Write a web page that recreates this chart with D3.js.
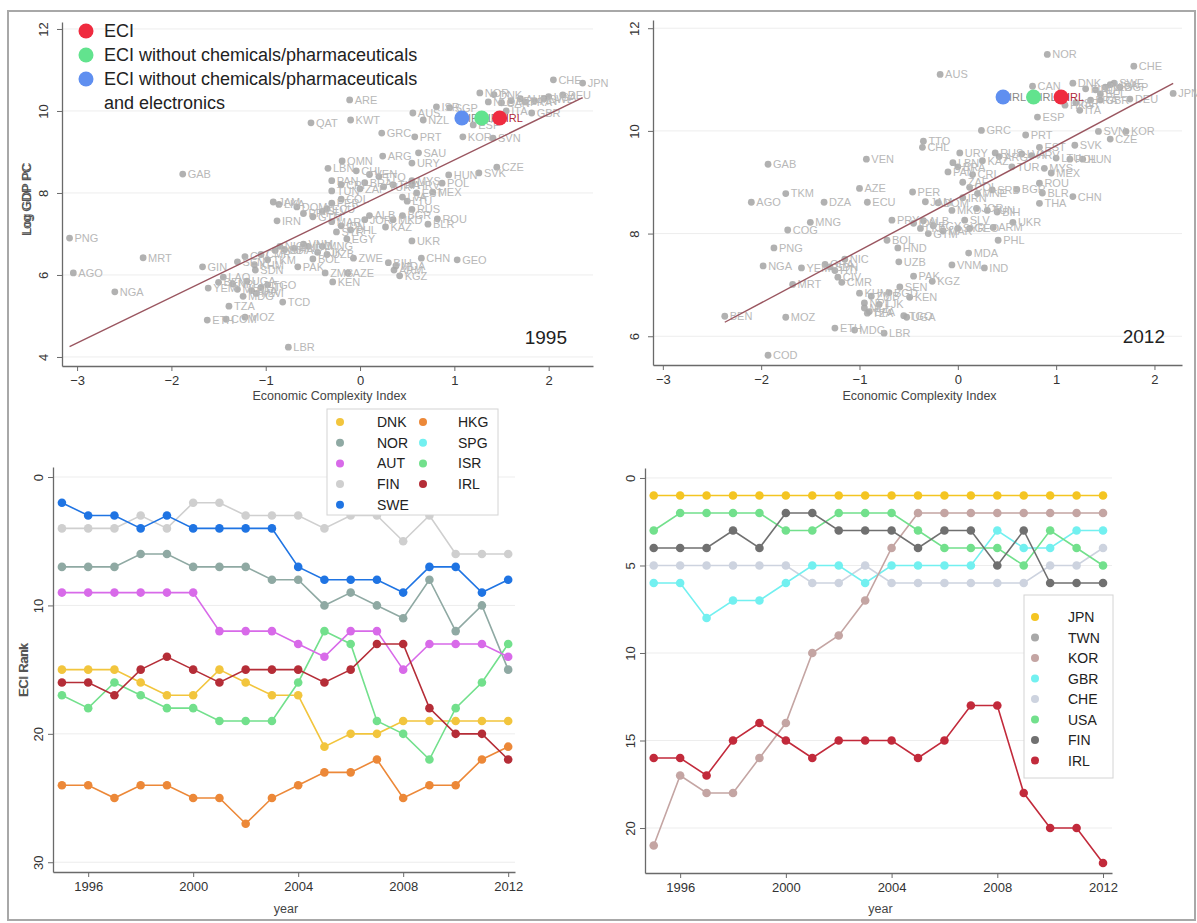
<!DOCTYPE html>
<html>
<head>
<meta charset="utf-8">
<script src="https://cdn.jsdelivr.net/npm/d3@7"></script>
<style>
  body { margin: 0; background: #fff; }
  svg { display: block; font-family: Arial, "Liberation Sans", sans-serif; }
</style>
</head>
<body>
<svg id="chart" width="1197" height="923"></svg>
<script>
// ---- scatter data: [country, ECI, log GDP per capita]
const points1995 = [
  ["PNG",-3.08,6.90],["AGO",-3.04,6.05],["NGA",-2.60,5.59],["MRT",-2.30,6.42],["GAB",-1.88,8.46],
  ["GIN",-1.67,6.20],["YEM",-1.61,5.68],["ETH",-1.62,4.90],["COM",-1.42,4.92],["MOZ",-1.22,4.97],
  ["TZA",-1.39,5.24],["MDG",-1.24,5.48],["LAO",-1.45,5.95],["BEN",-1.50,5.82],["NPL",-1.35,5.78],
  ["MLI",-1.30,5.65],["BFA",-1.15,5.62],["TGO",-0.98,5.76],["HTI",-1.05,5.70],["MWI",-1.10,5.55],
  ["UGA",-1.20,5.85],["SEN",-1.30,6.32],["CIV",-1.22,6.45],["CMR",-1.05,6.50],["KHM",-1.12,6.25],
  ["SDN",-1.11,6.12],["TKM",-0.98,6.37],["BGD",-0.90,6.60],["GHA",-0.80,6.62],["NIC",-0.85,6.70],
  ["HND",-0.70,6.65],["BOL",-0.50,6.39],["PAK",-0.66,6.20],["TCD",-0.82,5.34],["LBR",-0.76,4.24],
  ["ZMB",-0.37,6.05],["AZE",-0.13,6.05],["KEN",-0.29,5.83],["ZWE",-0.07,6.41],["EGY",-0.14,6.88],
  ["UZB",-0.35,6.50],["TJK",-0.45,6.55],["VNM",-0.60,6.75],["IND",-0.55,6.70],["MNG",-0.40,6.70],
  ["BIH",0.30,6.30],["MDA",0.38,6.22],["ARM",0.36,6.12],["KGZ",0.42,5.98],["CHN",0.65,6.41],
  ["GEO",1.03,6.37],["UKR",0.55,6.83],["IRN",-0.88,7.32],["JAM",-0.92,7.78],["LKA",-0.86,7.72],
  ["DOM",-0.67,7.66],["PRY",-0.60,7.50],["GTM",-0.50,7.42],["SLV",-0.40,7.55],["ECU",-0.35,7.62],
  ["PER",-0.30,7.75],["COL",-0.20,7.85],["MAR",-0.30,7.30],["IDN",-0.20,7.20],["PHL",-0.10,7.10],
  ["SYR",-0.25,7.05],["JOR",0.05,7.35],["ALB",0.10,7.45],["KAZ",0.27,7.17],["BLR",0.72,7.24],
  ["ROU",0.82,7.37],["MKD",0.35,7.35],["BGR",0.45,7.45],["RUS",0.55,7.60],["LVA",0.45,7.90],
  ["LTU",0.50,7.80],["EST",0.60,8.00],["HRV",0.55,8.20],["TUN",-0.30,8.05],["CRI",-0.20,8.20],
  ["PAN",-0.30,8.30],["VEN",0.10,8.45],["TTO",0.20,8.40],["BRA",0.05,8.25],["ZAF",0.00,8.10],
  ["TUR",0.25,8.15],["THA",0.35,8.20],["MYS",0.55,8.30],["MEX",0.77,8.02],["POL",0.87,8.24],
  ["HUN",0.94,8.44],["SVK",1.26,8.49],["CZE",1.45,8.63],["LBN",-0.34,8.60],["CHL",-0.04,8.54],
  ["OMN",-0.19,8.78],["ARG",0.24,8.90],["URY",0.55,8.73],["SAU",0.62,8.98],["QAT",-0.52,9.71],
  ["KWT",-0.10,9.78],["ARE",-0.11,10.27],["GRC",0.23,9.46],["PRT",0.58,9.37],["AUS",0.56,9.95],
  ["NZL",0.67,9.78],["ISR",0.81,10.10],["SGP",0.95,10.08],["ESP",1.20,9.66],["KOR",1.09,9.37],
  ["SVN",1.41,9.34],["NOR",1.27,10.44],["DNK",1.42,10.40],["NLD",1.36,10.22],["CAN",1.50,10.20],
  ["ITA",1.55,10.00],["BEL",1.60,10.25],["AUT",1.70,10.30],["FRA",1.75,10.22],["FIN",1.85,10.25],
  ["SWE",1.95,10.30],["USA",2.00,10.35],["DEU",2.15,10.39],["GBR",1.82,9.95],["CHE",2.05,10.76],
  ["JPN",2.36,10.68]
];

const points2012 = [
  ["BEN",-2.37,6.39],["COD",-1.93,5.63],["MOZ",-1.75,6.37],["AGO",-2.10,8.61],["GAB",-1.93,9.35],
  ["TKM",-1.75,8.78],["PNG",-1.87,7.72],["NGA",-1.98,7.37],["COG",-1.73,8.07],["MNG",-1.50,8.22],
  ["DZA",-1.36,8.61],["MRT",-1.68,7.01],["YEM",-1.59,7.33],["ETH",-1.25,6.16],["MDG",-1.05,6.12],
  ["LBR",-0.75,6.06],["AZE",-1.00,8.88],["ECU",-0.92,8.61],["VEN",-0.93,9.45],["NIC",-1.15,7.50],
  ["SDN",-1.30,7.35],["HTI",-1.25,7.28],["GHA",-1.35,7.40],["CIV",-1.22,7.15],["CMR",-1.18,7.05],
  ["KHM",-1.00,6.84],["ZMB",-0.88,6.78],["NPL",-0.95,6.65],["MLI",-0.95,6.55],["BFA",-0.90,6.48],
  ["TZA",-0.92,6.45],["UGA",-0.52,6.37],["TGO",-0.55,6.40],["SEN",-0.59,6.96],["KEN",-0.49,6.76],
  ["BGD",-0.70,6.85],["TJK",-0.80,6.62],["PAK",-0.45,7.17],["KGZ",-0.26,7.07],["UZB",-0.60,7.45],
  ["HND",-0.61,7.72],["BOL",-0.72,7.87],["VNM",-0.06,7.39],["IND",0.27,7.33],["MDA",0.11,7.62],
  ["PHL",0.41,7.87],["ARM",0.36,8.12],["UKR",0.56,8.22],["BIH",0.40,8.42],["JOR",0.19,8.49],
  ["MKD",-0.06,8.45],["SLV",0.07,8.26],["GEO",0.12,8.10],["GTM",-0.30,8.00],["MAR",-0.15,8.05],
  ["LKA",-0.38,8.10],["EGY",-0.25,8.15],["PRY",-0.67,8.26],["IDN",-0.45,8.20],["ALB",-0.35,8.25],
  ["SYR",0.00,8.10],["PER",-0.46,8.81],["JAM",-0.33,8.62],["DOM",-0.20,8.60],["TUN",0.30,8.45],
  ["IRN",0.05,8.70],["COL",0.12,8.90],["SRB",0.35,8.85],["MNE",0.20,8.78],["ZAF",0.05,9.00],
  ["BRA",0.00,9.30],["CRI",0.15,9.15],["PAN",-0.10,9.20],["LBN",-0.05,9.38],["KAZ",0.25,9.42],
  ["ARG",0.42,9.50],["TUR",0.55,9.30],["BGR",0.60,8.86],["BLR",0.86,8.79],["ROU",0.83,8.98],
  ["THA",0.83,8.59],["CHN",1.17,8.72],["MYS",0.88,9.27],["MEX",0.95,9.18],["TTO",-0.35,9.80],
  ["CHL",-0.36,9.68],["URY",0.02,9.57],["RUS",0.38,9.57],["LVA",0.65,9.55],["LTU",1.00,9.47],
  ["POL",1.14,9.45],["HUN",1.27,9.45],["HRV",0.75,9.52],["EST",0.83,9.68],["SVK",1.19,9.72],
  ["GRC",0.24,10.01],["PRT",0.69,9.92],["SVN",1.43,9.99],["KOR",1.71,9.99],["CZE",1.55,9.84],
  ["ESP",0.81,10.27],["ITA",1.24,10.40],["HKG",1.09,10.50],["ISR",1.20,10.55],["FRA",1.35,10.60],
  ["GBR",1.45,10.60],["BEL",1.45,10.72],["DEU",1.75,10.62],["FIN",1.30,10.82],["AUT",1.40,10.80],
  ["NLD",1.50,10.85],["USA",1.55,10.90],["SGP",1.65,10.85],["SWE",1.59,10.93],["DNK",1.17,10.93],
  ["CAN",0.76,10.87],["AUS",-0.18,11.10],["NOR",0.91,11.49],["CHE",1.79,11.26],["JPN",2.19,10.73]
];

// Ireland under the three ECI variants
const variantNames = ["ECI", "ECI without chemicals/pharmaceuticals", "ECI without chemicals/pharmaceuticals"];
const variantColors = ["#ef2b3f", "#62e38e", "#5f8ff0"];
const irlEci1995 = [1.48, 1.29, 1.08];
const irlGdp1995 = 9.83;
const irlEci2012 = [1.05, 0.77, 0.46];
const irlGdp2012 = 10.66;

// fitted lines: [x start, x end], intercept, slope
const fitRange1995 = [-3.08, 2.36], fitCoef1995 = [7.69, 1.116];
const fitRange2012 = [-2.37, 2.19], fitCoef2012 = [8.69, 1.02];

// ---- ECI rank series
const years = [1995,1996,1997,1998,1999,2000,2001,2002,2003,2004,2005,2006,2007,2008,2009,2010,2011,2012];
const yearTicks = [1996, 2000, 2004, 2008, 2012];

const leftCountries = ["DNK", "NOR", "AUT", "FIN", "SWE", "HKG", "SPG", "ISR", "IRL"];
const leftColors = ["#f2c53d", "#8fa9a3", "#d86ae9", "#cfcfcf", "#1f74e3", "#ec8838", "#72f0f0", "#72e08c", "#b52d37"];
const leftRanks = [
  [15,15,15,16,17,17,15,16,17,17,21,20,20,19,19,19,19,19],
  [7,7,7,6,6,7,7,7,8,8,10,9,10,11,8,12,10,15],
  [9,9,9,9,9,9,12,12,12,13,14,12,12,15,13,13,13,14],
  [4,4,4,3,4,2,2,3,3,3,4,3,3,5,3,6,6,6],
  [2,3,3,4,3,4,4,4,4,7,8,8,8,9,7,7,9,8],
  [24,24,25,24,24,25,25,27,25,24,23,23,22,25,24,24,22,21],
  [],
  [17,18,16,17,18,18,19,19,19,16,12,13,19,20,22,18,16,13],
  [16,16,17,15,14,15,16,15,15,15,16,15,13,13,18,20,20,22]
];
const leftDrawOrder = [3, 1, 5, 0, 7, 2, 4, 8];

const rightCountries = ["JPN", "TWN", "KOR", "GBR", "CHE", "USA", "FIN", "IRL"];
const rightColors = ["#f4c522", "#a8a8a8", "#c4a5a3", "#72f0f0", "#cdd3df", "#72e08c", "#707070", "#c22a3b"];
const rightRanks = [
  [1,1,1,1,1,1,1,1,1,1,1,1,1,1,1,1,1,1],
  [],
  [21,17,18,18,16,14,10,9,7,4,2,2,2,2,2,2,2,2],
  [6,6,8,7,7,6,5,5,6,5,5,5,5,3,4,4,3,3],
  [5,5,5,5,5,5,6,6,5,6,6,6,6,6,6,5,5,4],
  [3,2,2,2,2,3,3,2,2,2,3,4,4,4,5,3,4,5],
  [4,4,4,3,4,2,2,3,3,3,4,3,3,5,3,6,6,6],
  [16,16,17,15,14,15,16,15,15,15,16,15,13,13,18,20,20,22]
];
const rightDrawOrder = [4, 3, 2, 5, 6, 0, 7];

const svg = d3.select("#chart");

svg.append("rect")
  .attr("x", 8).attr("y", 11).attr("width", 1187).attr("height", 909)
  .attr("fill", "none").attr("stroke", "#a8a8a8").attr("stroke-width", 2);

function drawAxes(g, x, y, xTicks, yTicks, yLabelOffset, xTitle, yTitle, titlePos) {
  const bottom = d3.max(y.range());
  g.append("g").selectAll("line").data(yTicks).join("line")
    .attr("x1", x.range()[0] + 1).attr("x2", x.range()[1])
    .attr("y1", d => y(d)).attr("y2", d => y(d))
    .attr("stroke", "#ededed");

  const xa = g.append("g")
    .attr("transform", `translate(0,${bottom})`)
    .call(d3.axisBottom(x).tickValues(xTicks).tickSize(5).tickSizeOuter(0).tickPadding(5).tickFormat(d3.format("d")));
  const ya = g.append("g")
    .attr("transform", `translate(${x.range()[0]},0)`)
    .call(d3.axisLeft(y).tickValues(yTicks).tickSize(5).tickSizeOuter(0).tickFormat(d3.format("d")));

  [xa, ya].forEach(a => {
    a.select(".domain").attr("stroke", "#6a6a6a").attr("stroke-width", 1.3);
    a.selectAll(".tick line").attr("stroke", "#6a6a6a");
    a.selectAll("text").attr("fill", "#333").attr("font-size", 13);
  });
  ya.selectAll("text")
    .attr("x", 0).attr("dy", 0)
    .attr("text-anchor", "middle")
    .attr("transform", `translate(${-yLabelOffset},0) rotate(-90)`);

  g.append("text")
    .attr("x", titlePos[0]).attr("y", titlePos[1])
    .attr("text-anchor", "middle").attr("font-size", 12.5).attr("fill", "#444")
    .text(xTitle);
  g.append("text")
    .attr("x", 0).attr("y", 0)
    .attr("transform", `translate(${titlePos[2]},${titlePos[3]}) rotate(-90)`)
    .attr("text-anchor", "middle").attr("font-size", 12.5).attr("fill", "#555")
    .style("font-weight", "normal")
    .text(yTitle);
}

function drawScatter(points, x, y, fitRange, fitCoef, irlEci, irlGdp, yearLabel, yearPos) {
  const g = svg.append("g");
  drawAxes(g, x, y, [-3, -2, -1, 0, 1, 2], y.domain()[0] < 5 ? [4, 6, 8, 10, 12] : [6, 8, 10, 12], 14,
    "Economic Complexity Index", "Log GDP PC",
    [(x.range()[0] + x.range()[1]) / 2 + 2, 400, 30.5, (y.range()[0] + y.range()[1]) / 2 + 6]);

  const pts = g.append("g");
  pts.selectAll("circle").data(points).join("circle")
    .attr("cx", d => x(d[1])).attr("cy", d => y(d[2])).attr("r", 3.4)
    .attr("fill", "#a9a9a9").attr("fill-opacity", 0.9);
  pts.selectAll("text").data(points).join("text")
    .attr("x", d => x(d[1]) + 5).attr("y", d => y(d[2]))
    .attr("dy", "0.36em").attr("font-size", 11).attr("fill", "#b8b8b8")
    .text(d => d[0]);

  g.append("line")
    .attr("x1", x(fitRange[0])).attr("y1", y(fitCoef[0] + fitCoef[1] * fitRange[0]))
    .attr("x2", x(fitRange[1])).attr("y2", y(fitCoef[0] + fitCoef[1] * fitRange[1]))
    .attr("stroke", "#9a5660").attr("stroke-width", 1.4);

  const big = g.append("g");
  const order = [2, 1, 0];
  big.selectAll("text").data(order).join("text")
    .attr("x", i => x(irlEci[i]) + 6).attr("y", y(irlGdp))
    .attr("dy", "0.36em").attr("font-size", 11)
    .attr("fill", i => i === 0 ? "#b02a3a" : "#888")
    .text("IRL");
  big.selectAll("circle").data(order).join("circle")
    .attr("cx", i => x(irlEci[i])).attr("cy", y(irlGdp)).attr("r", 7.5)
    .attr("fill", i => variantColors[i]);
  // the red variant's label sits above its dot
  big.selectAll("text").filter(i => i === 0).raise();

  g.append("text")
    .attr("x", yearPos[0]).attr("y", yearPos[1])
    .attr("text-anchor", "end").attr("font-size", 19).attr("fill", "#222")
    .text(yearLabel);
  return g;
}

// ---- top left: 1995
const xS1 = d3.scaleLinear().domain([-3.16, 2.47]).range([62, 593]);
const yS1 = d3.scaleLinear().domain([3.78, 12.17]).range([366, 22]);
drawScatter(points1995, xS1, yS1, fitRange1995, fitCoef1995, irlEci1995, irlGdp1995, "1995", [567, 344]);

// legend for the three ECI variants
const leg = svg.append("g");
const legY = [31, 55, 79];
leg.selectAll("circle").data(variantNames).join("circle")
  .attr("cx", 86).attr("cy", (d, i) => legY[i]).attr("r", 7.5)
  .attr("fill", (d, i) => variantColors[i]);
leg.selectAll("text.lab").data(variantNames).join("text")
  .attr("class", "lab")
  .attr("x", 104).attr("y", (d, i) => legY[i]).attr("dy", "0.36em")
  .attr("font-size", 18).attr("fill", "#222")
  .text(d => d);
leg.append("text")
  .attr("x", 104).attr("y", 103).attr("dy", "0.36em")
  .attr("font-size", 18).attr("fill", "#222")
  .text("and electronics");

// ---- top right: 2012
const xS2 = d3.scaleLinear().domain([-3.10, 2.28]).range([653, 1182]);
const yS2 = d3.scaleLinear().domain([5.44, 12.16]).range([365, 20]);
drawScatter(points2012, xS2, yS2, fitRange2012, fitCoef2012, irlEci2012, irlGdp2012, "2012", [1165, 343]);

// ---- rank charts
function drawRanks(countries, colors, ranks, drawOrder, x, y, yTicks) {
  const g = svg.append("g");
  drawAxes(g, x, y, yearTicks, yTicks, 10, "year", "ECI Rank",
    [(x.range()[0] + x.range()[1]) / 2 + 2, 913, 27.5, (y.range()[0] + y.range()[1]) / 2]);
  const line = d3.line().x(d => x(d[0])).y(d => y(d[1]));
  drawOrder.forEach(k => {
    const data = years.map((yr, i) => [yr, ranks[k][i]]).filter(d => d[1] != null);
    const s = g.append("g");
    s.append("path").datum(data).attr("d", line)
      .attr("fill", "none").attr("stroke", colors[k]).attr("stroke-width", 1.6);
    s.selectAll("circle").data(data).join("circle")
      .attr("cx", d => x(d[0])).attr("cy", d => y(d[1])).attr("r", 4.3)
      .attr("fill", colors[k]);
  });
  return g;
}

function drawLegend(items, colors, box, dotX, textX, rowY) {
  const g = svg.append("g");
  g.append("rect").attr("x", box[0]).attr("y", box[1]).attr("width", box[2]).attr("height", box[3])
    .attr("fill", "#fff").attr("stroke", "#d4d4d4");
  items.forEach((name, i) => {
    g.append("circle").attr("cx", dotX[i]).attr("cy", rowY[i]).attr("r", 4).attr("fill", colors[i]);
    g.append("text").attr("x", textX[i]).attr("y", rowY[i]).attr("dy", "0.36em")
      .attr("font-size", 14).attr("fill", "#222").text(name);
  });
}

const xL = d3.scaleLinear().domain([1994.66, 2012.26]).range([53, 515]);
const yL = d3.scaleLinear().domain([-0.78, 30.76]).range([467, 872]);
drawRanks(leftCountries, leftColors, leftRanks, leftDrawOrder, xL, yL, [0, 10, 20, 30]);
drawLegend(leftCountries, leftColors, [327, 409, 171, 106],
  leftCountries.map((d, i) => i < 5 ? 340 : 423),
  leftCountries.map((d, i) => i < 5 ? 377 : 458),
  leftCountries.map((d, i) => 422 + (i % 5) * 20.7));

const xR = d3.scaleLinear().domain([1994.67, 2012.34]).range([645, 1112]);
const yR = d3.scaleLinear().domain([-0.57, 22.57]).range([468, 873]);
drawRanks(rightCountries, rightColors, rightRanks, rightDrawOrder, xR, yR, [0, 5, 10, 15, 20]);
drawLegend(rightCountries, rightColors, [1024, 595, 89, 183],
  rightCountries.map(() => 1035),
  rightCountries.map(() => 1068),
  rightCountries.map((d, i) => 617 + i * 20.5));
</script>
</body>
</html>
